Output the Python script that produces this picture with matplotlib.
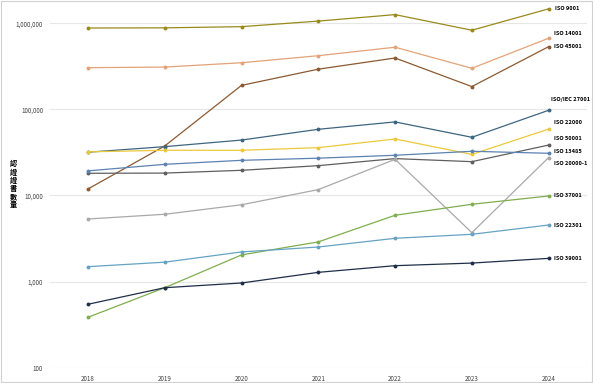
import numpy as np
import matplotlib.pyplot as plt
from matplotlib.patches import Rectangle

plt.rcParams['font.family'] = ['Noto Sans CJK TC', 'DejaVu Sans']

years = [2018, 2019, 2020, 2021, 2022, 2023, 2024]

iso_9001 = [881000, 885000, 913000, 1060000, 1260000, 830000, 1470000]
iso_14001 = [305000, 310000, 348000, 420000, 527000, 300000, 670000]
iso_45001 = [11900, 37600, 190000, 293000, 395000, 184000, 535000]
iso_27001 = [31800, 36900, 44000, 58700, 71500, 47400, 97600]
iso_22000 = [32100, 33500, 33500, 35900, 45300, 30000, 59000]
iso_50001 = [18100, 18200, 19600, 22200, 26800, 24700, 38500]
iso_13485 = [19300, 23000, 25600, 27100, 29300, 32600, 30900]
iso_20000 = [5330, 6050, 7800, 11700, 26300, 3700, 27600]
iso_37001 = [385, 849, 2040, 2890, 5890, 7900, 9870]
iso_22301 = [1490, 1680, 2210, 2520, 3180, 3540, 4540]
iso_39001 = [545, 849, 963, 1280, 1530, 1640, 1860]

names = ['ISO 9001', 'ISO 14001', 'ISO 45001', 'ISO/IEC 27001', 'ISO 22000',
         'ISO 50001', 'ISO 13485', 'ISO 20000-1', 'ISO 37001', 'ISO 22301',
         'ISO 39001']
series = [iso_9001, iso_14001, iso_45001, iso_27001, iso_22000, iso_50001,
          iso_13485, iso_20000, iso_37001, iso_22301, iso_39001]
colors = ['#9a8a1c', '#e3a377', '#8c5a32', '#3d6680', '#ecc93a', '#5f5f5f',
          '#5b82b3', '#a9a9a9', '#7fae4f', '#65a3c4', '#1f2f4a']
# nudges of the end labels, in pixels (positive = up / right)
label_dy = [0, 5, 0, 11, 7, 7, 2, -6, 0, 0, 0]
label_dx = [6, 5, 5, 2, 5, 5, 5, 5, 5, 5, 5]

fig = plt.figure(figsize=(5.93, 3.83), dpi=100)
ax = fig.add_axes([0.0843, 0.04, 0.9056, 0.955])

x = np.arange(len(years))
for name, vals, c, dx, dy in zip(names, series, colors, label_dx, label_dy):
    ax.plot(x, vals, color=c, lw=0.9, marker='o', ms=1.8)
    ax.annotate(name, (x[-1], vals[-1]), xytext=(dx, dy), textcoords='offset pixels',
                fontsize=4.1, fontweight='bold', va='center', ha='left', color='black',
                annotation_clip=False)

ax.set_yscale('log')
ax.set_ylim(100, 1.77e6)
ax.set_xlim(-0.495, len(years) - 0.5)
ax.set_yticks([100, 1000, 10000, 100000, 1000000])
ax.set_yticklabels(['100', '1,000', '10,000', '100,000', '1,000,000'])
ax.minorticks_off()
ax.set_xticks(x)
ax.set_xticklabels([str(y) for y in years])
ax.tick_params(labelsize=4.5, colors='#404040', length=0, pad=5)
ax.grid(axis='y', color='#e6e6e6', lw=0.8)
ax.set_axisbelow(True)
for s in ax.spines.values():
    s.set_visible(False)

fig.text(0.022, 0.52, '\n'.join('認證證書數量'), fontsize=5.2, fontweight='bold',
         ha='center', va='center', linespacing=1.15)
fig.patches.append(Rectangle((0.002, 0.002), 0.996, 0.996, transform=fig.transFigure,
                             fill=False, ec='#d0d0d0', lw=0.8))

fig.savefig('out.png', dpi=100)
